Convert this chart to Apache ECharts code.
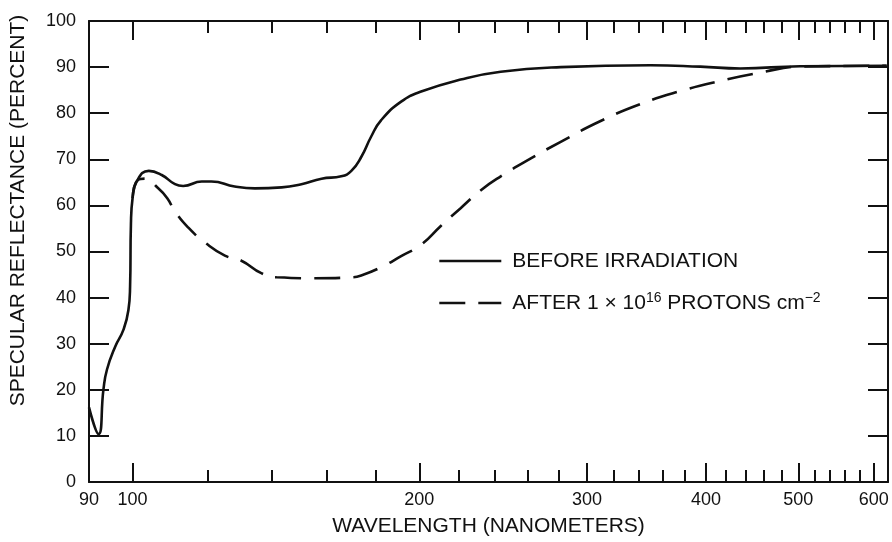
<!DOCTYPE html>
<html>
<head>
<meta charset="utf-8">
<script src="https://cdn.jsdelivr.net/npm/echarts@6/dist/echarts.min.js"></script>
<style>
html,body{margin:0;padding:0;background:#fff;}
#chart{width:892px;height:542px;}
</style>
</head>
<body>
<div id="chart"></div>
<script>
// Wavelength (nm) / specular reflectance (percent)
var beforeData = [
  [90,16.2],[92.1,10.4],[93.2,20.1],[94.0,24.4],[95.9,29.4],[97.8,33],[99.0,37.3],[99.4,42.5],
  [99.6,55.9],[100,61.6],[101,65.2],[104,67.5],[107.3,66.6],[110.8,64.6],[113,64.2],[118.2,65.2],
  [121,65.2],[128,64.1],[134.4,63.7],[143.4,63.9],[150.4,64.6],[157.9,65.8],[165.6,66.3],
  [169.7,67.5],[173.8,70.5],[178.1,75],[182.4,78.5],[191.4,82.5],[200.9,84.7],[221,87.3],
  [243.5,89],[281.5,90],[349.8,90.4],[394.5,90.1],[434.5,89.7],[502,90.2],[619,90.3]
];
var afterData = [
  [100,61.6],[101.3,65.5],[103,65.8],[106.4,63.7],[108.7,61.6],[110.8,58.7],[114.4,55.2],
  [119.2,51.9],[125,49.1],[130.1,48.0],[136.5,45.3],[141.6,44.4],[155,44.2],[169.7,44.4],
  [173.8,44.8],[182.4,46.6],[191.4,49],[200.9,51.5],[210.8,55.6],[221,59.4],[232.1,63.3],
  [243.5,66.3],[261.9,70.2],[281.5,73.8],[310,78.3],[341.5,82],[376,84.8],[414,87],
  [456,88.8],[502,90.1],[619,90.3]
];
var xLabelValues = [90,100,200,300,400,500,600];
var xMajorTicks = [90,100,200,300,400,500,600];
var xMinorTicks = [120,140,160,180,220,240,260,280,320,340,360,380,420,440,460,480,520,540,560,580];
var seriesNames = ['BEFORE IRRADIATION','AFTER 1 × 10¹⁶ PROTONS cm⁻²'];

var FONT = 'Liberation Sans';
var xMin = 90, xMax = 621;
var black = '#111';

function xAxisCfg(pos, ticks, len, showLine, showLabel) {
  return {
    type: 'log', logBase: 10, min: xMin, max: xMax, position: pos,
    axisLine: {show: showLine, onZero: false, lineStyle: {color: black, width: 2}},
    axisTick: {show: true, inside: true, length: len, customValues: ticks,
               lineStyle: {color: black, width: 2}},
    axisLabel: showLabel ? {show: true, customValues: xLabelValues, margin: 9,
               fontFamily: FONT, fontSize: 18, color: black} : {show: false},
    splitLine: {show: false}, minorTick: {show: false}, minorSplitLine: {show: false}
  };
}

var xAxes = [
  xAxisCfg('bottom', xMajorTicks, 19, true, true),
  xAxisCfg('bottom', xMinorTicks, 12, false, false),
  xAxisCfg('top', xMajorTicks, 19, true, false),
  xAxisCfg('top', xMinorTicks, 12, false, false)
];
xAxes[0].name = 'WAVELENGTH (NANOMETERS)';
xAxes[0].nameLocation = 'middle';
xAxes[0].nameGap = 34;
xAxes[0].nameTextStyle = {fontFamily: FONT, fontSize: 21, color: black};

var chart = echarts.init(document.getElementById('chart'), null, {renderer: 'canvas'});
chart.setOption({
  backgroundColor: '#fff',
  animation: false,
  grid: {left: 87, right: 4, top: 21, bottom: 55, containLabel: false},
  xAxis: xAxes,
  yAxis: [
    {
      type: 'value', min: 0, max: 100, interval: 10, position: 'left',
      name: 'SPECULAR REFLECTANCE (PERCENT)', nameLocation: 'middle', nameGap: 60,
      nameTextStyle: {fontFamily: FONT, fontSize: 21, color: black, padding: [0, 0, 0, 82]},
      axisLine: {show: true, lineStyle: {color: black, width: 2}},
      axisTick: {show: true, inside: true, length: 20, lineStyle: {color: black, width: 2}},
      axisLabel: {margin: 13, fontFamily: FONT, fontSize: 18, color: black},
      splitLine: {show: false}
    },
    {
      type: 'value', min: 0, max: 100, interval: 10, position: 'right',
      axisLine: {show: true, lineStyle: {color: black, width: 2}},
      axisTick: {show: true, inside: true, length: 20, lineStyle: {color: black, width: 2}},
      axisLabel: {show: false},
      splitLine: {show: false}
    }
  ],
  legend: {
    orient: 'vertical', left: 433, top: 244, itemWidth: 62, itemHeight: 14, itemGap: 18,
    data: seriesNames,
    itemStyle: {opacity: 0},
    lineStyle: {width: 2.6},
    formatter: function (name) {
      if (name === seriesNames[1]) {
        return 'AFTER 1 × 10{sup|16} PROTONS cm{sup|−2}';
      }
      return name;
    },
    textStyle: {
      fontFamily: FONT, fontSize: 21, color: black, lineHeight: 24, padding: [0, 0, 0, 6],
      rich: {
        sup: {fontFamily: FONT, fontSize: 14, lineHeight: 24, verticalAlign: 'top', color: black, padding: [0, 0, 10, 0]}
      }
    }
  },
  series: [
    {
      name: seriesNames[0], type: 'line', xAxisIndex: 0, yAxisIndex: 0,
      data: beforeData, showSymbol: false, symbol: 'none',
      smooth: 0.5,
      lineStyle: {color: black, width: 2.6, type: 'solid'},
      itemStyle: {color: black}
    },
    {
      name: seriesNames[1], type: 'line', xAxisIndex: 0, yAxisIndex: 0,
      data: afterData, showSymbol: false, symbol: 'none',
      smooth: 0.5,
      lineStyle: {color: black, width: 2.6, type: [26, 13]},
      itemStyle: {color: black}
    }
  ]
});
</script>
</body>
</html>
